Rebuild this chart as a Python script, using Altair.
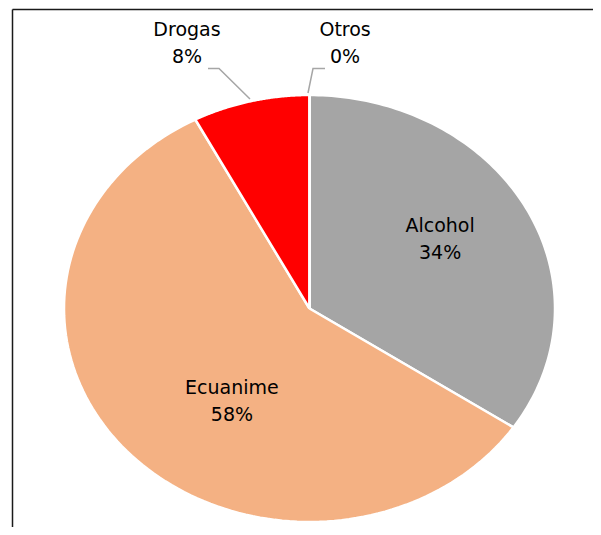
import altair as alt
import pandas as pd

# ---- data ----
categories = ["Alcohol", "Ecuanime", "Drogas", "Otros"]
values = [34.4, 57.9, 7.7, 0.0]
colors = ["#a5a5a5", "#f4b183", "#ff0000", "#ffc000"]

# ---- label layout (in normalized pie coordinates, -1..1) ----
label_x = [0.532, -0.316, -0.499, 0.145]
label_y = [0.323, -0.436, 1.241, 1.241]

leader_label = ["Drogas", "Drogas", "Drogas", "Otros", "Otros", "Otros"]
leader_step = [0, 1, 2, 0, 1, 2]
leader_x = [-0.4134, -0.3686, -0.2424, 0.0631, 0.0143, -0.0061]
leader_y = [1.1241, 1.1241, 0.9813, 1.1241, 1.1241, 1.0094]

N = 120

df = pd.DataFrame({
    "category": categories,
    "value": values,
    "idx": list(range(len(categories))),
    "lx": label_x,
    "ly": label_y,
})
leaders = pd.DataFrame({"label": leader_label, "step": leader_step,
                        "px": leader_x, "py": leader_y})

xs = alt.Scale(domain=[-1, 1], range=[56, 547])
ys = alt.Scale(domain=[-1, 1], range=[514, 87])

base = (
    alt.Chart(df)
    .transform_window(cum="sum(value)", sort=[alt.SortField("idx")], frame=[None, 0])
    .transform_joinaggregate(total="sum(value)")
    .transform_calculate(start="datum.cum - datum.value")
)

slices = (
    base.transform_calculate(k=f"sequence(0, {N + 3})")
    .transform_flatten(["k"])
    .transform_calculate(
        frac=f"clamp((datum.k - 1) / {N}, 0, 1)",
        theta="2 * PI * (datum.start + datum.value * datum.frac) / datum.total",
        edge=f"(datum.k > 0 && datum.k < {N + 2}) ? 1 : 0",
    )
    .transform_calculate(
        px="datum.edge * sin(datum.theta)",
        py="datum.edge * cos(datum.theta)",
    )
    .mark_line(stroke="white", strokeWidth=2.5, strokeJoin="round")
    .encode(
        x=alt.X("px:Q", scale=xs, axis=None),
        y=alt.Y("py:Q", scale=ys, axis=None),
        fill=alt.Fill("category:N", scale=alt.Scale(domain=categories, range=colors), legend=None),
        detail="category:N",
        order="k:Q",
    )
)

labels = (
    base.transform_calculate(
        label="datum.category + '\\n' + format(datum.value / 100, '.0%')"
    )
    .mark_text(font="DejaVu Sans", fontSize=19, lineHeight=27, lineBreak="\n",
               align="center", baseline="middle", color="#000000", dy=-13.5)
    .encode(
        x=alt.X("lx:Q", scale=xs, axis=None),
        y=alt.Y("ly:Q", scale=ys, axis=None),
        text="label:N",
    )
)

leader_lines = (
    alt.Chart(leaders)
    .mark_line(color="#a6a6a6", strokeWidth=1.5)
    .encode(
        x=alt.X("px:Q", scale=xs, axis=None),
        y=alt.Y("py:Q", scale=ys, axis=None),
        detail="label:N",
        order="step:Q",
    )
)

frame_src = pd.DataFrame({"a": [0]})
top_rule = alt.Chart(frame_src).mark_rule(color="#1a1a1a", strokeWidth=1.5).encode(
    x=alt.value(4.5), x2=alt.value(585), y=alt.value(1.5))
left_rule = alt.Chart(frame_src).mark_rule(color="#1a1a1a", strokeWidth=1.5).encode(
    x=alt.value(4.5), y=alt.value(1.5), y2=alt.value(519))

chart = (
    alt.layer(slices, leader_lines, labels, top_rule, left_rule)
    .properties(width=585, height=519, autosize=alt.AutoSizeParams(type="none"), padding=0)
    .configure_view(stroke=None)
)

chart.save("out.html", embed_options={"renderer": "svg", "actions": False})
